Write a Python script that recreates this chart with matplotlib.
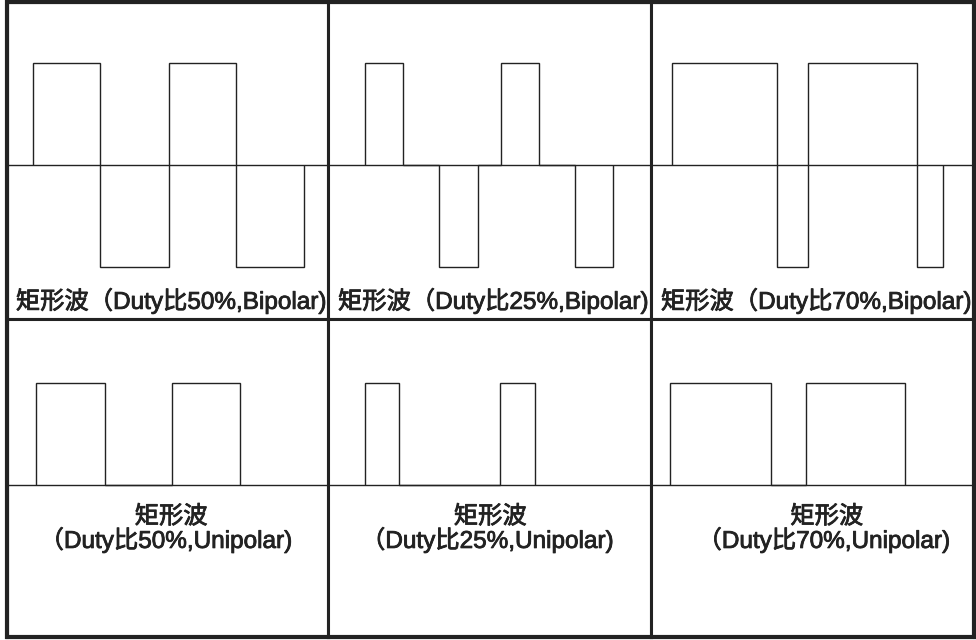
import matplotlib
matplotlib.use("Agg")
import matplotlib.pyplot as plt
import matplotlib.patheffects as pe
from matplotlib.patches import Rectangle

plt.rcParams['font.family'] = ['Liberation Sans', 'Noto Sans CJK SC', 'DejaVu Sans']

# === DATA ===
# switching edges in periods, level between consecutive edges
bi50_edges = [0.19, 0.686, 1.191, 1.686, 2.182]
bi50_levels = [1, -1, 1, -1]
bi25_edges = [0.27, 0.554, 0.814, 1.10, 1.27, 1.554, 1.814, 2.098]
bi25_levels = [1, 0, -1, 0, 1, 0, -1]
bi70_edges = [0.157, 0.924, 1.152, 1.956, 2.149]
bi70_levels = [1, -1, 1, -1]
uni50_edges = [0.215, 0.718, 1.213, 1.715]
uni50_levels = [1, 0, 1]
uni25_edges = [0.27, 0.522, 1.267, 1.52]
uni25_levels = [1, 0, 1]
uni70_edges = [0.1375, 0.885, 1.1375, 1.865]
uni70_levels = [1, 0, 1]

top_labels = ["矩形波（Duty比50%,Bipolar)", "矩形波（Duty比25%,Bipolar)", "矩形波（Duty比70%,Bipolar)"]
bottom_title = "矩形波"
bottom_labels = ["（Duty比50%,Unipolar)", "（Duty比25%,Unipolar)", "（Duty比70%,Unipolar)"]

W, H = 976, 640
col_px = [(7, 328), (328, 651), (651, 974)]
row_px = [(2, 319), (319, 637)]
period_px = 136.0
ink = "#222222"
fx = [pe.withStroke(linewidth=0.6, foreground=ink)]

fig = plt.figure(figsize=(W / 100, H / 100), dpi=100)


def make_ax(c, r, ylim):
    x0, x1 = col_px[c]
    y0, y1 = row_px[r]
    ax = fig.add_axes([x0 / W, 1 - y1 / H, (x1 - x0) / W, (y1 - y0) / H])
    ax.set_xlim(0, (x1 - x0) / period_px)
    ax.set_ylim(*ylim)
    ax.set_xticks([])
    ax.set_yticks([])
    for s in ax.spines.values():
        s.set_linewidth(2.2)
        s.set_color(ink)
    ax.axhline(0, color=ink, lw=1.0)
    return ax


def label(ax, x, y, s):
    ax.text(x, y, s, transform=ax.transAxes, ha="center", va="center",
            fontsize=17.5, color=ink, path_effects=fx)


top = [(bi50_edges, bi50_levels), (bi25_edges, bi25_levels), (bi70_edges, bi70_levels)]
bottom = [(uni50_edges, uni50_levels), (uni25_edges, uni25_levels), (uni70_edges, uni70_levels)]
bottom_x = [(0.511, 0.494), (0.502, 0.492), (0.544, 0.534)]

for c, (edges, levels) in enumerate(top):
    ax = make_ax(c, 0, (-1.513, 1.595))
    ax.stairs(levels, edges, baseline=0, color=ink, lw=1.0)
    label(ax, 0.51, 0.057, top_labels[c])

for c, (edges, levels) in enumerate(bottom):
    ax = make_ax(c, 1, (-1.502, 1.634))
    ax.stairs(levels, edges, baseline=0, color=ink, lw=1.0)
    label(ax, bottom_x[c][0], 0.377, bottom_title)
    label(ax, bottom_x[c][1], 0.305, bottom_labels[c])

# outer frame
fig.patches.append(Rectangle((6.5 / W, 1 - 636.5 / H), 967 / W, 635 / H, transform=fig.transFigure,
                             fill=False, lw=3.0, edgecolor=ink, zorder=10))

fig.savefig("out.png", dpi=100)
